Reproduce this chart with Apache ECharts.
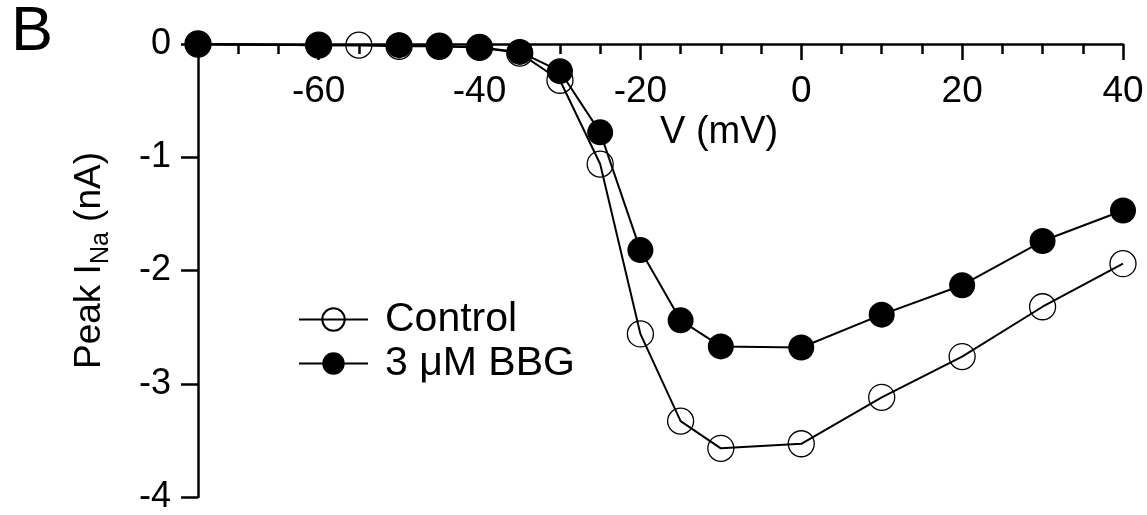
<!DOCTYPE html>
<html>
<head>
<meta charset="utf-8">
<script src="https://cdn.jsdelivr.net/npm/echarts@6/dist/echarts.min.js"></script>
<style>
html,body{margin:0;padding:0;background:#fff;}
#chart{width:1147px;height:515px;}
</style>
</head>
<body>
<div id="chart"></div>
<script>
// Data
const controlVoltages = [-75, -60, -55, -50, -45, -40, -35, -30, -25, -20, -15, -10, 0, 10, 20, 30, 40];
const controlValues   = [0, -0.01, -0.01, -0.02, -0.02, -0.03, -0.08, -0.32, -1.06, -2.56, -3.33, -3.57, -3.53, -3.12, -2.76, -2.32, -1.94];
const bbgVoltages     = [-75, -60, -50, -45, -40, -35, -30, -25, -20, -15, -10, 0, 10, 20, 30, 40];
const bbgValues       = [0, -0.01, -0.01, -0.02, -0.03, -0.07, -0.24, -0.78, -1.82, -2.44, -2.67, -2.68, -2.39, -2.13, -1.74, -1.47];
const xMajorTicks     = [-60, -40, -20, 0, 20, 40];
const seriesNames     = ['Control', '3 μM BBG'];
const xAxisTitle      = 'V (mV)';
const panelLabel      = 'B';

const FONT = '"Liberation Sans", Arial, sans-serif';
const pairs = (xs, ys) => xs.map((x, i) => [x, ys[i]]);

const chart = echarts.init(document.getElementById('chart'));
chart.setOption({
  animation: false,
  backgroundColor: '#fff',
  graphic: [{
    type: 'text', left: 11, top: 1,
    style: { text: panelLabel, font: '63px ' + FONT, fill: '#000' }
  }, {
    type: 'text', left: 660, top: 114,
    style: { text: xAxisTitle, font: '38px ' + FONT, fill: '#000' }
  }],
  grid: { left: 198, right: 24, top: 44, bottom: 14, containLabel: false },
  legend: {
    left: 298, top: 299, orient: 'vertical', padding: 0,
    itemWidth: 69, itemHeight: 28, itemGap: 3,
    textStyle: { fontFamily: FONT, fontSize: 41, color: '#000', padding: [0, 0, 0, 12] },
    data: seriesNames
  },
  xAxis: [{
    type: 'value', position: 'top', min: -75, max: 40,
    axisLine: { show: true, onZero: false, lineStyle: { color: '#000', width: 2.5 } },
    axisTick: { show: true, inside: true, length: 16, customValues: xMajorTicks, lineStyle: { color: '#000', width: 2.5 } },
    axisLabel: { show: true, inside: true, margin: 29, customValues: xMajorTicks,
      fontFamily: FONT, fontSize: 37, color: '#000' },
    splitLine: { show: false }
  }, {
    type: 'value', position: 'top', min: -75, max: 40, interval: 5,
    axisLine: { show: false },
    axisTick: { show: true, inside: true, length: 10, lineStyle: { color: '#000', width: 2.5 } },
    axisLabel: { show: false },
    splitLine: { show: false }
  }],
  yAxis: {
    type: 'value', min: -4, max: 0, interval: 1,
    name: '{a|Peak I}{s|Na}{a| (nA)}', nameLocation: 'middle', nameGap: 90, nameRotate: 90,
    nameTextStyle: {
      padding: [0, 0, 0, 20],
      rich: {
        a: { fontFamily: FONT, fontSize: 37, color: '#000', lineHeight: 42, verticalAlign: 'bottom' },
        s: { fontFamily: FONT, fontSize: 25, color: '#000', lineHeight: 42, verticalAlign: 'bottom', padding: [0, 0, -6, 0] }
      }
    },
    axisLine: { show: true, onZero: false, lineStyle: { color: '#000', width: 2.5 } },
    axisTick: { show: true, inside: false, length: 17, lineStyle: { color: '#000', width: 2.5 } },
    axisLabel: { show: true, margin: 27, fontFamily: FONT, fontSize: 36, color: '#000' },
    splitLine: { show: false }
  },
  series: [{
    name: seriesNames[0], type: 'line', xAxisIndex: 0,
    data: pairs(controlVoltages, controlValues),
    symbol: 'circle', symbolSize: 26,
    lineStyle: { color: '#000', width: 2 },
    itemStyle: { color: 'rgba(0,0,0,0)', borderColor: '#000', borderWidth: 1.3 },
    z: 2
  }, {
    name: seriesNames[1], type: 'line', xAxisIndex: 0,
    data: pairs(bbgVoltages, bbgValues),
    symbol: 'circle', symbolSize: 26,
    lineStyle: { color: '#000', width: 2 },
    itemStyle: { color: '#000', borderColor: '#000', borderWidth: 0 },
    z: 3
  }]
});
</script>
</body>
</html>
